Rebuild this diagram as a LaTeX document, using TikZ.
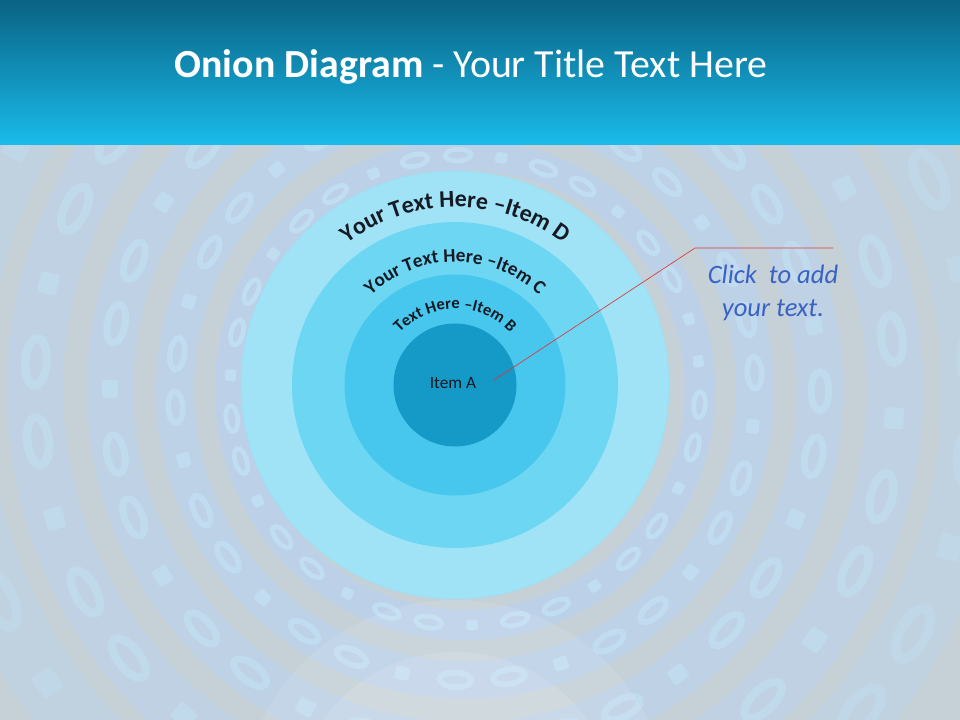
\documentclass[tikz,border=0pt]{standalone}
\usepackage{fontspec}
\setmainfont{Carlito}
\usetikzlibrary{shapes.geometric,decorations.text,calc}

\definecolor{bggray}{HTML}{C5D1D7}
\definecolor{bandblue}{HTML}{BCD2EA}
\definecolor{glyphblue}{HTML}{C2DFF2}
\definecolor{titletop}{HTML}{0A6384}
\definecolor{titlebot}{HTML}{19BBEB}
\definecolor{ringD}{HTML}{A1E3F6}
\definecolor{ringC}{HTML}{6DD6F3}
\definecolor{ringB}{HTML}{48C7EE}
\definecolor{ringA}{HTML}{1599C6}
\definecolor{textdark}{HTML}{151A24}
\definecolor{linered}{HTML}{D9383A}
\definecolor{noteblue}{HTML}{3A62C2}

\begin{document}
\begin{tikzpicture}[
    x=0.2646mm, y=0.2646mm,
    layer/.style={circle, inner sep=0pt},
    band/.style={draw=bandblue},
    zero/.style={ellipse, draw=glyphblue, inner sep=0pt},
    one/.style={rectangle, rounded corners=0.6mm, fill=glyphblue, inner sep=0pt},
    reflect/.style={fill=white, opacity=0.1},
    callout/.style={draw=linered, line width=0.5pt},
    arctext/.style={decorate, decoration={text along path, text align=center, text color=textdark, text={#1}}}
]
% Page background
\fill[bggray] (0,0) rectangle (960,575);

% Binary rings behind the onion
\coordinate (rc) at (465,330);
\begin{scope}
\clip (0,0) rectangle (960,575);
\foreach \r/\op [count=\i] in {235/0.9,290/0.85,355/0.75,430/0.6,510/0.45} {
    \begin{scope}[opacity=\op]
    \draw[band, line width=0.13*\r*0.2646mm] (rc) circle[radius=\r];
    \foreach \k in {1,...,34} {
        \pgfmathsetmacro\a{\k*360/34+7*\i}
        \pgfmathtruncatemacro\bit{mod(\k*5+\i,3)==0 ? 1 : 0}
        \ifnum\bit=1
            \node[one, rotate=\a, minimum width=0.045*\r*0.2646mm, minimum height=0.05*\r*0.2646mm] at ($(rc)+(\a:\r)$) {};
        \else
            \node[zero, rotate=\a+90, line width=0.02*\r*0.2646mm, minimum width=0.11*\r*0.2646mm, minimum height=0.05*\r*0.2646mm] at ($(rc)+(\a:\r)$) {};
        \fi
    }
    \end{scope}
}
% Reflection under the onion
\begin{scope}
\clip (0,0) rectangle (960,120);
\fill[reflect] (455,-95) circle[radius=215];
\fill[reflect] (455,-95) circle[radius=163];
\end{scope}
\end{scope}

% Title bar
\shade[top color=titletop, bottom color=titlebot] (0,575) rectangle (960,720);
\node[text=white, font=\fontsize{30}{34}\selectfont] (title) at (471,653) {\textbf{Onion Diagram} - Your Title Text Here};

% Onion layers
\node[layer, fill=ringD, draw=ringD!80!ringC, line width=0.4pt, minimum size=428*0.2646mm] (layerD) at (455,335) {};
\node[layer, fill=ringC, minimum size=326*0.2646mm] (layerC) at (layerD.center) {};
\node[layer, fill=ringB, minimum size=221*0.2646mm] (layerB) at (layerD.center) {};
\node[layer, fill=ringA, minimum size=123*0.2646mm, text=textdark, font=\fontsize{13}{15}\selectfont] (itemA) at (layerD.center) {\raisebox{3pt}{Item A\hspace{3pt}}};

% Curved labels
\path[arctext={|\bfseries\fontsize{18}{18}\selectfont|Your Text Here {\textendash}Item D}] (layerD.center) ++(165:178) arc[start angle=165, end angle=15, radius=178];
\path[arctext={|\bfseries\fontsize{14.5}{15}\selectfont|Your Text Here {\textendash}Item C}] (layerD.center) ++(165:123) arc[start angle=165, end angle=15, radius=123];
\path[arctext={|\bfseries\fontsize{12.5}{13}\selectfont|Text Here {\textendash}Item B}] (layerD.center) ++(170:76) arc[start angle=170, end angle=10, radius=76];

% Callout
\coordinate (pin) at (494,340);
\coordinate (elbow) at (695,472);
\coordinate (tail) at (833,472);
\draw[callout] (pin) -- (elbow) -- (tail);
\node[text=noteblue, align=center, font=\itshape\fontsize{20}{25}\selectfont] (note) at (773,427) {Click\ \ to add\\your text.};
\end{tikzpicture}
\end{document}
